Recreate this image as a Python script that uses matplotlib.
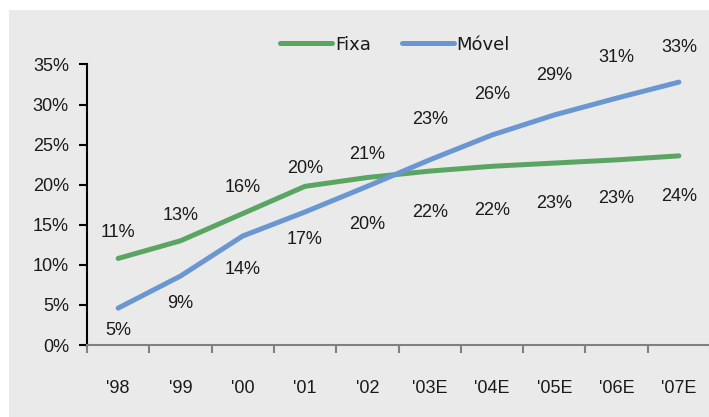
import matplotlib.pyplot as plt
from matplotlib.patches import Rectangle
from matplotlib.ticker import FuncFormatter

plt.rcParams['font.family'] = ['Liberation Sans', 'DejaVu Sans']

anos = ["'98", "'99", "'00", "'01", "'02", "'03E", "'04E", "'05E", "'06E", "'07E"]
fixa = [10.8, 13.0, 16.4, 19.8, 20.9, 21.7, 22.3, 22.7, 23.1, 23.6]
movel = [4.6, 8.6, 13.6, 16.6, 19.8, 23.1, 26.2, 28.7, 30.8, 32.8]

# distancia dos rotulos ate o ponto (px, positivo = acima)
desloc_fixa = [26, 25, 26, 18, 23, -41, -44, -40, -39, -41]
desloc_movel = [-22, -27, -33, -28, -38, 40, 41, 39, 41, 35]

cor_fixa = '#5ba563'
cor_movel = '#6a96d2'
cor_texto = '#1a1a1a'

fig = plt.figure(figsize=(7.09, 4.17), dpi=100)
fundo = Rectangle((9 / 709, 0), 1, 1 - 10 / 417, transform=fig.transFigure,
                  facecolor='#eaeaea', edgecolor='none', zorder=-10)
fig.add_artist(fundo)

ax = fig.add_axes([87 / 709, 72 / 417, 623 / 709, 280.5 / 417])
ax.patch.set_visible(False)

x = list(range(len(anos)))
ax.plot(x, fixa, color=cor_fixa, lw=3.6, solid_capstyle='round', label='Fixa')
ax.plot(x, movel, color=cor_movel, lw=3.6, solid_capstyle='round', label='Móvel')

for serie, desl in ((fixa, desloc_fixa), (movel, desloc_movel)):
    for i, v in enumerate(serie):
        ax.annotate(f'{v:.0f}%', (i, v), xytext=(0, desl[i] * 0.72), textcoords='offset points',
                    ha='center', va='center', fontsize=13, color=cor_texto)

ax.set_xlim(-0.5, 9.5)
ax.set_ylim(0, 35)
ax.set_yticks(range(0, 36, 5))
ax.yaxis.set_major_formatter(FuncFormatter(lambda v, p: f'{v:.0f}%'))
ax.set_xticks(x)
ax.set_xticklabels(anos)
ax.set_xticks([i - 0.5 for i in range(11)], minor=True)

ax.tick_params(axis='y', length=6, width=1.5, color='black', pad=7, labelsize=13, labelcolor=cor_texto)
ax.tick_params(axis='x', which='major', length=0, pad=25, labelsize=13, labelcolor=cor_texto)
ax.tick_params(axis='x', which='minor', length=6, width=1.5, color='#808080')

for lado in ('top', 'right'):
    ax.spines[lado].set_visible(False)
ax.spines['left'].set_color('black')
ax.spines['left'].set_linewidth(1.5)
ax.spines['bottom'].set_color('#808080')
ax.spines['bottom'].set_linewidth(1.5)

ax.legend(loc='center left', bbox_to_anchor=(280 / 709, 1 - 44.5 / 417), bbox_transform=fig.transFigure,
          ncol=2, frameon=False, prop={'family': 'DejaVu Sans', 'size': 13}, borderpad=0,
          borderaxespad=0, handlelength=2.9, handletextpad=0.15, columnspacing=1.7, labelcolor=cor_texto)

fig.savefig('out.png', dpi=100, facecolor='white')
